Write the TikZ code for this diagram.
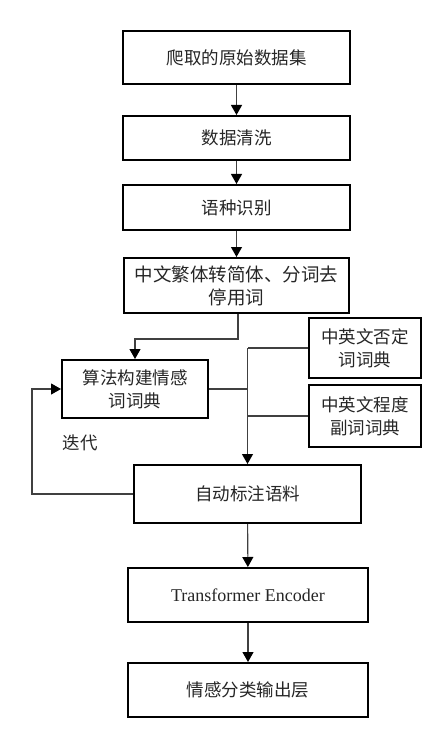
\documentclass[tikz,border=0pt]{standalone}
\usepackage{fontspec}
\setmainfont{Liberation Serif}
\newfontfamily\cjk{Noto Sans CJK SC}
\usetikzlibrary{arrows.meta}
\tikzset{
  box/.style={draw=black, line width=2pt, fill=white, inner sep=0pt, align=center,
    text=black!85, font=\cjk\fontsize{17.5}{23}\selectfont},
  arr/.style={draw=black!75, line width=1.1pt, -{Triangle[length=10pt,width=11pt,color=black]}},
  conn/.style={draw=black!75, line width=1.1pt},
  lbl/.style={inner sep=0pt, text=black!85, font=\cjk\fontsize{17.5}{23}\selectfont}
}
\begin{document}
\begin{tikzpicture}[x=1pt,y=-1pt]
\useasboundingbox (0,0) rectangle (445,730);
\node[box, minimum width=227pt, minimum height=53pt] (b1) at (236.5,57.5) {爬取的原始数据集};
\node[box, minimum width=227pt, minimum height=44pt] (b2) at (236.5,138) {数据清洗};
\node[box, minimum width=227pt, minimum height=45pt] (b3) at (236.5,207.5) {语种识别};
\node[box, minimum width=225pt, minimum height=55pt, font=\cjk\fontsize{18.5}{23}\selectfont] (b4) at (236.5,285.5) {中文繁体转简体、分词去\\停用词};
\node[box, minimum width=146pt, minimum height=58pt] (alg) at (135,389) {算法构建情感\\词词典};
\node[box, minimum width=112pt, minimum height=60pt] (neg) at (365,348) {中英文否定\\词词典};
\node[box, minimum width=112pt, minimum height=62pt] (deg) at (365,416) {中英文程度\\副词词典};
\node[box, minimum width=227pt, minimum height=58pt] (auto) at (247.5,494) {自动标注语料};
\node[box, minimum width=240pt, minimum height=54pt, font=\fontsize{18}{22}\selectfont] (tr) at (248,595) {Transformer Encoder};
\node[box, minimum width=240pt, minimum height=54pt] (out) at (248,690) {情感分类输出层};
\node[lbl] (iter) at (80,443) {迭代};

\draw[arr] (b1) -- (b2);
\draw[arr] (b2) -- (b3);
\draw[arr] (b3) -- (b4);
\draw[arr] ([xshift=1.5pt]b4.south) -- ++(0,25) -| (alg.north);
\coordinate (jt) at (neg.west -| auto.north);
\draw[conn] (neg.west) -- (jt);
\draw[arr] (jt) -- (auto.north);
\draw[conn] (alg.east) -- (alg.east -| auto.north);
\draw[conn] (deg.west) -- (deg.west -| auto.north);
\draw[arr] (auto.west) -- ++(-101,0) |- (alg.west);
\draw[arr] (auto) -- (tr);
\draw[arr] (tr) -- (out);
\end{tikzpicture}
\end{document}
